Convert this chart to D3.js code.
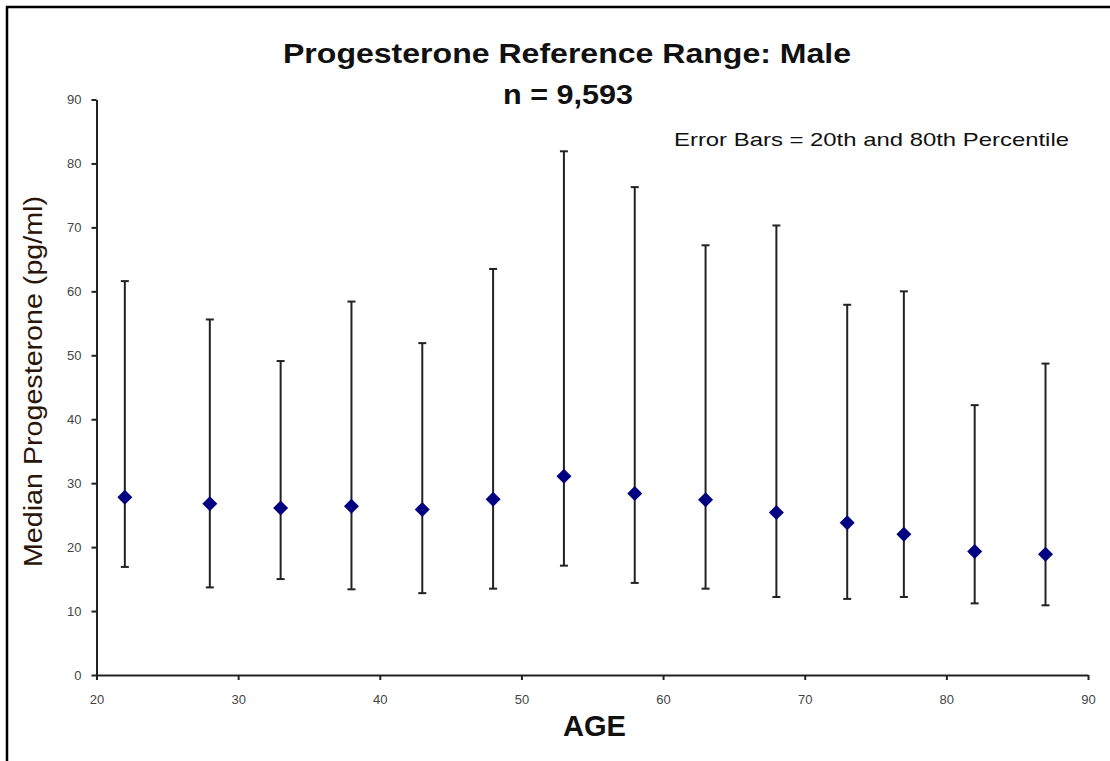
<!DOCTYPE html>
<html>
<head>
<meta charset="utf-8">
<script src="https://cdn.jsdelivr.net/npm/d3@7"></script>
<style>
  body { margin: 0; background: #fff; }
  text { font-family: "Liberation Sans", Arial, sans-serif; }
</style>
</head>
<body>
<script>
// Age groups (x) and the median with 20th / 80th percentile (pg/ml)
const ages = [22, 28, 33, 38, 43, 48, 53, 58, 63, 68, 73, 77, 82, 87];
const medians = [27.8, 26.8, 26.1, 26.4, 25.9, 27.5, 31.1, 28.4, 27.4, 25.4, 23.8, 22.0, 19.3, 18.9];
const p20 = [16.9, 13.7, 15.0, 13.4, 12.8, 13.5, 17.1, 14.4, 13.5, 12.2, 11.9, 12.2, 11.2, 10.9];
const p80 = [61.6, 55.6, 49.1, 58.4, 51.9, 63.5, 81.9, 76.3, 67.2, 70.3, 57.9, 60.0, 42.2, 48.7];
const xTicks = [20, 30, 40, 50, 60, 70, 80, 90];
const yTicks = [0, 10, 20, 30, 40, 50, 60, 70, 80, 90];

const width = 1110;
const height = 761;

const svg = d3.select('body')
  .append('svg')
  .attr('width', width)
  .attr('height', height);

// frame of the chart area (only top and left edges are visible)
svg.append('line')
  .attr('x1', 6).attr('x2', width).attr('y1', 7).attr('y2', 7)
  .style('stroke', '#000').style('stroke-width', 2.5);
svg.append('line')
  .attr('x1', 7).attr('x2', 7).attr('y1', 6).attr('y2', height)
  .style('stroke', '#000').style('stroke-width', 2.5);

const x = d3.scaleLinear().domain([20, 90]).range([96.5, 1088]);
const y = d3.scaleLinear().domain([0, 90]).range([675, 99.5]);

const rows = ages.map((a, i) => ({ age: a, med: medians[i], lo: p20[i], hi: p80[i] }));

// axes
const yAxis = svg.append('g')
  .attr('transform', `translate(${x(20)},0)`)
  .call(d3.axisLeft(y).tickValues(yTicks).tickSize(5).tickSizeOuter(0).tickPadding(10));

const xAxis = svg.append('g')
  .attr('transform', `translate(0,${y(0)})`)
  .call(d3.axisBottom(x).tickValues(xTicks).tickSize(5).tickSizeOuter(0).tickPadding(15));

[yAxis, xAxis].forEach((g) => {
  g.select('.domain').style('stroke', '#222').style('stroke-width', 2);
  g.selectAll('.tick line').style('stroke', '#222').style('stroke-width', 2);
  g.selectAll('.tick text')
    .style('font-size', '13px')
    .style('fill', '#444')
    .style('font-family', '"Liberation Sans", Arial, sans-serif');
});

// error bars
const bars = svg.append('g')
  .selectAll('g')
  .data(rows)
  .enter()
  .append('g');

bars.append('line')
  .attr('x1', (d) => x(d.age)).attr('x2', (d) => x(d.age))
  .attr('y1', (d) => y(d.hi)).attr('y2', (d) => y(d.lo))
  .style('stroke', '#222').style('stroke-width', 2);

bars.append('line')
  .attr('x1', (d) => x(d.age) - 4).attr('x2', (d) => x(d.age) + 4)
  .attr('y1', (d) => y(d.hi)).attr('y2', (d) => y(d.hi))
  .style('stroke', '#222').style('stroke-width', 2);

bars.append('line')
  .attr('x1', (d) => x(d.age) - 4).attr('x2', (d) => x(d.age) + 4)
  .attr('y1', (d) => y(d.lo)).attr('y2', (d) => y(d.lo))
  .style('stroke', '#222').style('stroke-width', 2);

// median markers (diamonds)
svg.append('g')
  .selectAll('path')
  .data(rows)
  .enter()
  .append('path')
  .attr('transform', (d) => `translate(${x(d.age)},${y(d.med)})`)
  .attr('d', 'M0,-7.5L7.5,0L0,7.5L-7.5,0Z')
  .style('fill', '#000080');

// titles
svg.append('text')
  .attr('x', 283).attr('y', 63)
  .attr('textLength', 568).attr('lengthAdjust', 'spacingAndGlyphs')
  .style('font-size', '28px').style('font-weight', 'bold').style('fill', '#111')
  .text('Progesterone Reference Range: Male');

svg.append('text')
  .attr('x', 503).attr('y', 104)
  .attr('textLength', 130).attr('lengthAdjust', 'spacingAndGlyphs')
  .style('font-size', '28px').style('font-weight', 'bold').style('fill', '#111')
  .text('n = 9,593');

svg.append('text')
  .attr('x', 674).attr('y', 146)
  .attr('textLength', 395).attr('lengthAdjust', 'spacingAndGlyphs')
  .style('font-size', '19px').style('fill', '#111')
  .text('Error Bars =  20th and 80th Percentile');

svg.append('text')
  .attr('transform', 'translate(42,567) rotate(-90)')
  .attr('textLength', 371).attr('lengthAdjust', 'spacingAndGlyphs')
  .style('font-size', '26px').style('fill', '#2a1608')
  .text('Median Progesterone (pg/ml)');

svg.append('text')
  .attr('x', 563).attr('y', 736)
  .attr('textLength', 63).attr('lengthAdjust', 'spacingAndGlyphs')
  .style('font-size', '30px').style('font-weight', 'bold').style('fill', '#111')
  .text('AGE');
</script>
</body>
</html>
